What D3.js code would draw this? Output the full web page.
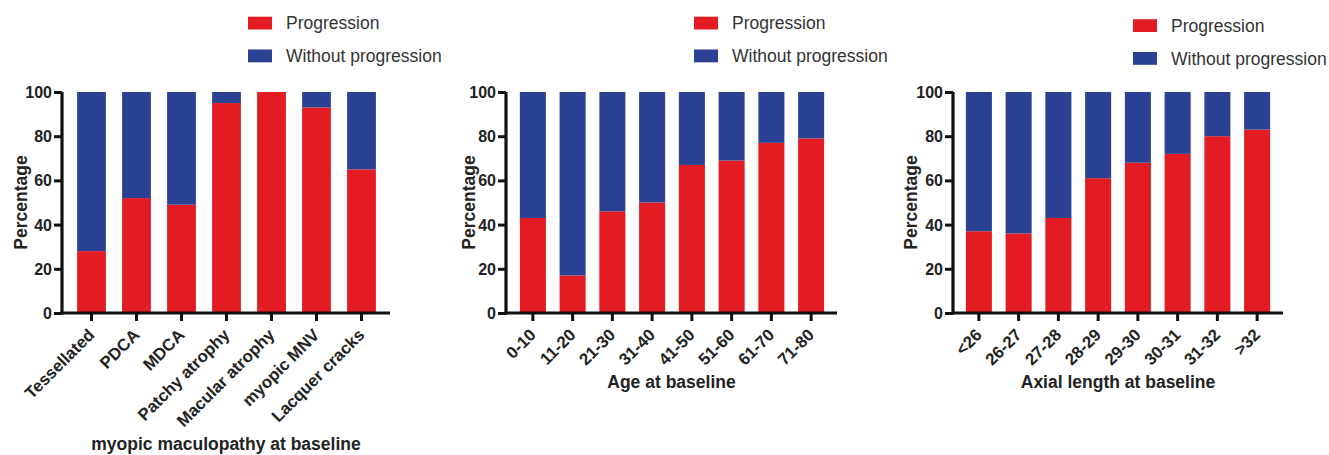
<!DOCTYPE html>
<html>
<head>
<meta charset="utf-8">
<script src="https://cdn.jsdelivr.net/npm/d3@7"></script>
<style>
  html, body { margin: 0; padding: 0; background: #fff; }
  svg { display: block; font-family: Arial, "Liberation Sans", sans-serif; }
</style>
</head>
<body>
<svg id="chart" width="1329" height="455"></svg>
<script>
// data
var seriesNames = ['Progression', 'Without progression'];
var seriesColors = ['#e31b23', '#2b4194'];
var yTicks = [0, 20, 40, 60, 80, 100];

var maculopathyCats = ['Tessellated', 'PDCA', 'MDCA', 'Patchy atrophy', 'Macular atrophy', 'myopic MNV', 'Lacquer cracks'];
var maculopathyProg = [28, 52, 49, 95, 100, 93, 65];
var maculopathyNoProg = [72, 48, 51, 5, 0, 7, 35];

var ageCats = ['0-10', '11-20', '21-30', '31-40', '41-50', '51-60', '61-70', '71-80'];
var ageProg = [43, 17, 46, 50, 67, 69, 77, 79];
var ageNoProg = [57, 83, 54, 50, 33, 31, 23, 21];

var axialCats = ['<26', '26-27', '27-28', '28-29', '29-30', '30-31', '31-32', '>32'];
var axialProg = [37, 36, 43, 61, 68, 72, 80, 83];
var axialNoProg = [63, 64, 57, 39, 32, 28, 20, 17];

var xTitles = ['myopic maculopathy at baseline', 'Age at baseline', 'Axial length at baseline'];

// layout of the three panels
var panels = [
  {cats: maculopathyCats, prog: maculopathyProg, noprog: maculopathyNoProg, title: xTitles[0],
   axisX: 62, range: [69, 384], pad: 0.36, titleY: 450, yTitleX: 27, legX: 248, legY: 0},
  {cats: ageCats, prog: ageProg, noprog: ageNoProg, title: xTitles[1],
   axisX: 506, range: [513, 831], pad: 0.345, titleY: 388, yTitleX: 475, legX: 694, legY: 0},
  {cats: axialCats, prog: axialProg, noprog: axialNoProg, title: xTitles[2],
   axisX: 953, range: [959, 1277], pad: 0.345, titleY: 388, yTitleX: 917, legX: 1133, legY: 2.5}
];

var svg = d3.select('#chart');
var y = d3.scaleLinear().domain([0, 100]).range([313, 92]);

panels.forEach(function(p) {
  var g = svg.append('g');
  var x = d3.scaleBand().domain(p.cats).range(p.range)
    .paddingInner(p.pad).paddingOuter(p.pad / 2);

  var table = p.cats.map(function(c, i) {
    return {cat: c, 'Progression': p.prog[i], 'Without progression': p.noprog[i]};
  });
  var stacked = d3.stack().keys(seriesNames)(table);

  g.selectAll('g.layer').data(stacked).enter().append('g')
    .attr('class', 'layer')
    .attr('fill', function(d, i) { return seriesColors[i]; })
    .selectAll('rect').data(function(d) { return d; }).enter().append('rect')
    .attr('x', function(d) { return x(d.data.cat); })
    .attr('width', x.bandwidth())
    .attr('y', function(d) { return y(d[1]); })
    .attr('height', function(d) { return y(d[0]) - y(d[1]); });

  // y axis
  var ya = g.append('g').attr('transform', 'translate(' + p.axisX + ',0)')
    .call(d3.axisLeft(y).tickValues(yTicks).tickSize(8).tickPadding(2));
  ya.select('.domain').remove();
  ya.selectAll('.tick line').attr('stroke', '#111').attr('stroke-width', 3);
  ya.selectAll('.tick text').attr('fill', '#222').attr('font-size', 16)
    .attr('font-weight', 'bold').attr('dy', '0.34em');
  g.append('line').attr('x1', p.axisX).attr('x2', p.axisX)
    .attr('y1', y(0) + 1.5).attr('y2', y(100))
    .attr('stroke', '#111').attr('stroke-width', 3.2);

  // x axis
  var xa = g.append('g').attr('transform', 'translate(0,' + y(0) + ')')
    .call(d3.axisBottom(x).tickSize(8));
  xa.select('.domain').remove();
  xa.selectAll('.tick line').attr('stroke', '#111').attr('stroke-width', 3);
  xa.selectAll('.tick text')
    .attr('x', 0).attr('y', 0).attr('dy', 0)
    .attr('transform', 'translate(4,23) rotate(-45)')
    .style('text-anchor', 'end')
    .attr('fill', '#222').attr('font-size', 16.8).attr('font-weight', 'bold');
  g.append('line').attr('x1', p.axisX - 1.5).attr('x2', p.range[1] + 6)
    .attr('y1', y(0)).attr('y2', y(0))
    .attr('stroke', '#111').attr('stroke-width', 3.2);

  // titles
  g.append('text')
    .attr('x', (p.axisX + p.range[1] + 6) / 2).attr('y', p.titleY)
    .attr('text-anchor', 'middle').attr('font-size', 17.5).attr('font-weight', 'bold')
    .attr('fill', '#222').text(p.title);
  g.append('text')
    .attr('transform', 'translate(' + p.yTitleX + ',' + ((y(0) + y(100)) / 2) + ') rotate(-90)')
    .attr('text-anchor', 'middle').attr('font-size', 17.5).attr('font-weight', 'bold')
    .attr('fill', '#222').text('Percentage');

  // legend
  var leg = g.selectAll('g.leg').data(seriesNames).enter().append('g')
    .attr('class', 'leg')
    .attr('transform', function(d, i) {
      return 'translate(' + p.legX + ',' + (p.legY + 16.7 + i * 32.8) + ')';
    });
  leg.append('rect').attr('width', 24).attr('height', 12.8)
    .attr('fill', function(d, i) { return seriesColors[i]; });
  leg.append('text').attr('x', 38).attr('y', 12.5)
    .attr('font-size', 17.5).attr('fill', '#333').text(function(d) { return d; });
});
</script>
</body>
</html>
